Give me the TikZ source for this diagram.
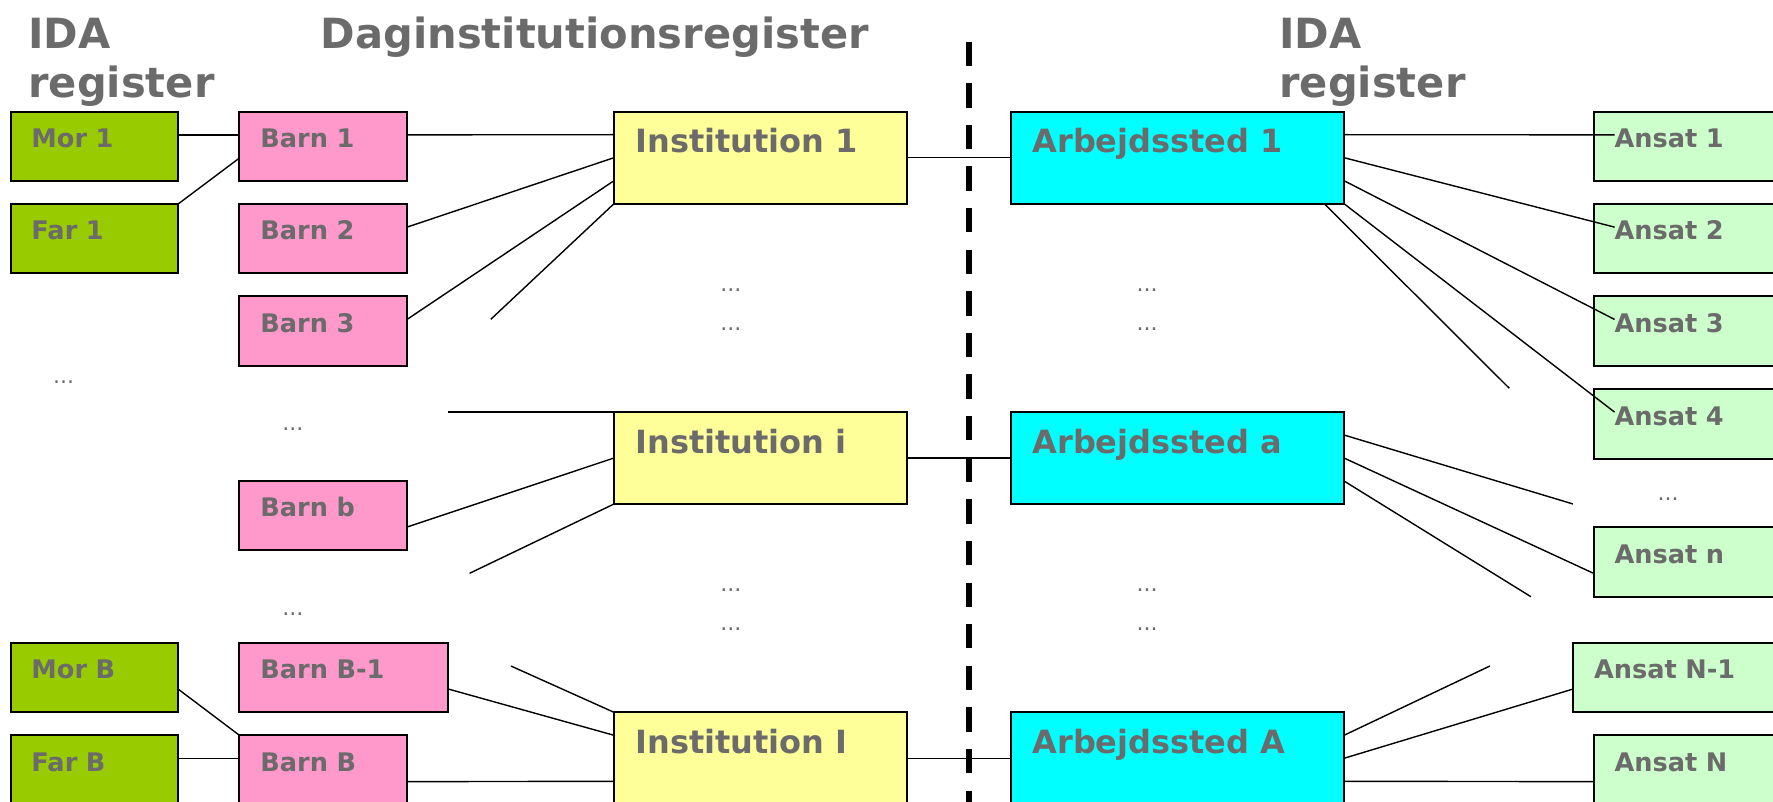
\documentclass[tikz,border=0pt]{standalone}
\usepackage{fontspec}
\setmainfont{DejaVu Sans}
\usepackage{xcolor}
\usepackage{tikz}
\usetikzlibrary{calc}
\definecolor{morfar}{HTML}{99CC00}
\definecolor{barn}{HTML}{FF99CC}
\definecolor{inst}{HTML}{FFFF99}
\definecolor{arb}{HTML}{00FFFF}
\definecolor{ansat}{HTML}{CCFFCC}
\definecolor{txtgray}{HTML}{6B6B6B}
\tikzset{
    cell/.style = {draw, line width=1pt, anchor=north west, outer sep=0pt,
        inner xsep=10.5pt, inner ysep=0pt, align=left, text=txtgray,
        font=\bfseries\fontsize{12.8}{15}\selectfont},
    scell/.style = {cell, text width=62.8pt, text height=18pt, text depth=16.75pt},
    wcell/.style = {cell, text width=83.5pt, text height=18pt, text depth=16.75pt},
    ecell/.style = {cell, fill=ansat, text width=110pt, text height=18pt, text depth=16.75pt},
    bcell/.style = {cell, inner xsep=10.75pt, text height=20.5pt, text depth=25.5pt,
        font=\bfseries\fontsize{16}{18}\selectfont},
    icell/.style = {bcell, fill=inst, text width=124.9pt},
    acell/.style = {bcell, fill=arb, text width=145pt},
    head/.style = {anchor=base west, inner sep=0pt, text=txtgray,
        font=\bfseries\fontsize{20.8}{25}\selectfont},
    dots/.style = {anchor=base, inner sep=0pt, text=txtgray, font=\fontsize{11}{13}\selectfont},
    wire/.style = {line width=0.7pt},
}
\begin{document}
\begin{tikzpicture}[x=0.5pt, y=-0.5pt]
\useasboundingbox (0,0) rectangle (1773,802);
\clip (0,0) rectangle (1773,802);

\node[head] (idaL1) at (28,48.3) {IDA};
\node[head] (idaL2) at (28,98) {register};
\node[head] (dagreg) at (320.5,48.3) {Daginstitutionsregister};
\node[head] (idaR1) at (1279,48.3) {IDA};
\node[head] (idaR2) at (1279,98) {register};

\node[scell, fill=morfar] (mor1) at (10.5,111.7) {Mor 1};
\node[scell, fill=morfar] (far1) at (10.5,204) {Far 1};
\node[scell, fill=morfar] (morB) at (10.5,642.7) {Mor B};
\node[scell, fill=morfar] (farB) at (10.5,735.3) {Far B};

\node[scell, fill=barn] (barn1) at (239.4,111.7) {Barn 1};
\node[scell, fill=barn] (barn2) at (239.4,204) {Barn 2};
\node[scell, fill=barn] (barn3) at (239.4,296.3) {Barn 3};
\node[scell, fill=barn] (barnb) at (239.4,480.7) {Barn b};
\node[wcell, fill=barn] (barnB1) at (239.4,642.7) {Barn B-1};
\node[scell, fill=barn] (barnB) at (239.4,735.3) {Barn B};

\node[icell] (inst1) at (614,111.7) {Institution 1};
\node[icell] (insti) at (614,412) {Institution i};
\node[icell] (instI) at (614,712.3) {Institution I};

\node[acell] (arb1) at (1011,111.7) {Arbejdssted 1};
\node[acell] (arba) at (1011,412) {Arbejdssted a};
\node[acell] (arbA) at (1011,712.3) {Arbejdssted A};

\node[ecell] (ans1) at (1593.6,111.7) {Ansat 1};
\node[ecell] (ans2) at (1593.6,204) {Ansat 2};
\node[ecell] (ans3) at (1593.6,296.3) {Ansat 3};
\node[ecell] (ans4) at (1593.6,389) {Ansat 4};
\node[ecell] (ansn) at (1593.6,527) {Ansat n};
\node[ecell] (ansN1) at (1573,642.7) {Ansat N-1};
\node[ecell] (ansN) at (1593.6,735.3) {Ansat N};

\foreach \x/\y [count=\i] in {63.7/383, 292.8/430, 292.8/615, 730.8/292, 730.8/330,
    730.8/591.7, 730.8/630, 1147/292, 1147/330, 1147/591.7, 1147/630, 1668/500}
    \node[dots] (dot\i) at (\x,\y) {...};

\coordinate (loose1) at (490.8,319.3);
\coordinate (loose2) at (447.8,412);
\coordinate (loose3) at (469.6,573.3);
\coordinate (loose4) at (510.9,666);
\coordinate (loose5) at (1509.3,388.3);
\coordinate (loose6) at (1573,504);
\coordinate (loose7) at (1530.9,596.7);
\coordinate (loose8) at (1489.9,666);

\draw[wire] ([yshift=5.8pt]mor1.east) -- ([yshift=5.8pt]barn1.west);
\draw[wire] (far1.north east) -- ([yshift=-5.8pt]barn1.west);
\draw[wire] ([yshift=5.8pt]barn1.east) -- ([yshift=11.5pt]inst1.west);
\draw[wire] ([yshift=5.8pt]barn2.east) -- (inst1.west);
\draw[wire] ([yshift=5.8pt]barn3.east) -- ([yshift=-11.5pt]inst1.west);
\draw[wire] (loose1) -- (inst1.south west);
\draw[wire] (loose2) -- (insti.north west);
\draw[wire] ([yshift=-5.8pt]barnb.east) -- (insti.west);
\draw[wire] (loose3) -- (insti.south west);
\draw[wire] (loose4) -- (instI.north west);
\draw[wire] ([yshift=-5.8pt]barnB1.east) -- ([yshift=11.5pt]instI.west);
\draw[wire] ([yshift=-5.8pt]morB.east) -- (barnB.north west);
\draw[wire] ([yshift=5.8pt]farB.east) -- ([yshift=5.8pt]barnB.west);
\draw[wire] ([yshift=-5.8pt]barnB.east) -- ([yshift=-11.5pt]instI.west);

\draw[wire] (inst1.east) -- (arb1.west);
\draw[wire] (insti.east) -- (arba.west);
\draw[wire] (instI.east) -- (arbA.west);

\draw[wire] ([yshift=11.5pt]arb1.east) -- ([xshift=10.5pt,yshift=5.8pt]ans1.west);
\draw[wire] (arb1.east) -- ([xshift=10.5pt,yshift=5.8pt]ans2.west);
\draw[wire] ([yshift=-11.5pt]arb1.east) -- ([xshift=10.5pt,yshift=5.8pt]ans3.west);
\draw[wire] (arb1.south east) -- ([xshift=10.5pt,yshift=5.8pt]ans4.west);
\draw[wire] ([xshift=-9.9pt]arb1.south east) -- (loose5);
\draw[wire] ([yshift=11.5pt]arba.east) -- (loose6);
\draw[wire] (arba.east) -- ([yshift=-5.8pt]ansn.west);
\draw[wire] ([yshift=-11.5pt]arba.east) -- (loose7);
\draw[wire] ([yshift=11.5pt]arbA.east) -- (loose8);
\draw[wire] (arbA.east) -- ([yshift=-5.8pt]ansN1.west);
\draw[wire] ([yshift=-11.5pt]arbA.east) -- ([yshift=-5.8pt]ansN.west);

\coordinate (cut1) at (968.8,41.7);
\coordinate (cut2) at (968.8,840);
\draw[line width=3pt, dash pattern=on 12.15pt off 8.65pt] (cut1) -- (cut2);
\end{tikzpicture}
\end{document}
